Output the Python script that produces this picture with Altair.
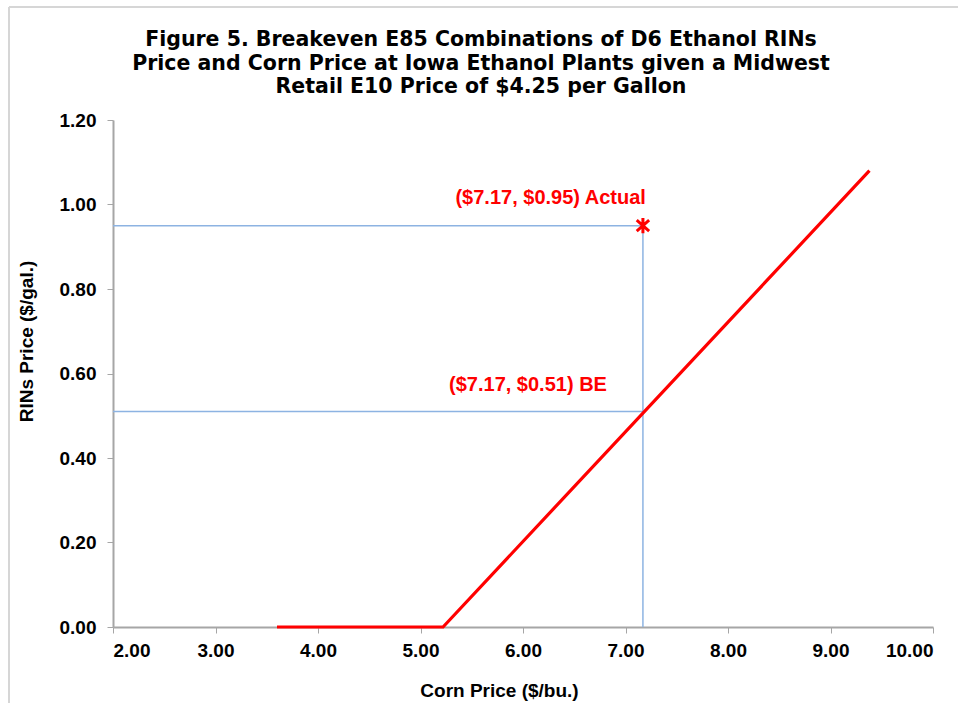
import altair as alt
import pandas as pd

# Breakeven RINs price as a function of corn price (kinked line)
corn_price = [3.60, 5.22, 9.38]
rins_price = [0.00, 0.00, 1.08]

# Highlighted combinations at the current corn price
point_corn = [7.17, 7.17]
point_rins = [0.95, 0.51]
point_kind = ["Actual", "BE"]

x_ticks = [2, 3, 4, 5, 6, 7, 8, 9, 10]
y_ticks = [0.0, 0.2, 0.4, 0.6, 0.8, 1.0, 1.2]

title_lines = [
    "Figure 5. Breakeven  E85 Combinations of D6 Ethanol RINs",
    "Price and Corn Price at Iowa Ethanol Plants given a Midwest",
    "Retail E10 Price of $4.25 per Gallon",
]

FONT = "Liberation Sans"
TITLE_FONT = "DejaVu Sans"
RED = "#ff0000"
GUIDE = "#8db3e2"

line_df = pd.DataFrame({"corn": corn_price, "rins": rins_price})
pts_df = pd.DataFrame({"corn": point_corn, "rins": point_rins, "kind": point_kind})
pts_df["label"] = [
    f"(${c:.2f}, ${r:.2f}) {k}" for c, r, k in zip(point_corn, point_rins, point_kind)
]
pts_df["x0"] = x_ticks[0]
pts_df["y0"] = 0.0
title_df = pd.DataFrame({"title": ["\n".join(title_lines)]})

x_scale = alt.Scale(domain=[2, 10], nice=False, zero=False)
y_scale = alt.Scale(domain=[0, 1.2], nice=False, zero=False)

x_enc = alt.X(
    "corn:Q",
    scale=x_scale,
    axis=alt.Axis(values=x_ticks, format=".2f", title="Corn Price ($/bu.)", titleX=386),
)
y_enc = alt.Y(
    "rins:Q",
    scale=y_scale,
    axis=alt.Axis(values=y_ticks, format=".2f", title="RINs Price ($/gal.)", titleY=221),
)

# Horizontal guides from the y axis to each highlighted point
h_guides = alt.Chart(pts_df).mark_rule(color=GUIDE, strokeWidth=1.5).encode(
    x=alt.X("x0:Q", scale=x_scale), x2="corn:Q", y=alt.Y("rins:Q", scale=y_scale)
)

# Vertical guide from the x axis up to the actual point
v_guide = alt.Chart(pts_df[pts_df.kind == "Actual"]).mark_rule(
    color=GUIDE, strokeWidth=1.5
).encode(x=alt.X("corn:Q", scale=x_scale), y=alt.Y("y0:Q", scale=y_scale), y2="rins:Q")

breakeven = alt.Chart(line_df).mark_line(color=RED, strokeWidth=3.2).encode(
    x=x_enc, y=y_enc
)

asterisk = "M0,-1L0,1M-0.8,-0.7L0.8,0.7M-0.8,0.7L0.8,-0.7"
actual_mark = alt.Chart(pts_df[pts_df.kind == "Actual"]).mark_point(
    shape=asterisk, size=240, filled=False, color=RED, strokeWidth=3, opacity=1
).encode(x=alt.X("corn:Q", scale=x_scale), y=alt.Y("rins:Q", scale=y_scale))

label_style = dict(
    color=RED, font=FONT, fontSize=20, fontWeight="bold", align="right", baseline="middle"
)
actual_label = alt.Chart(pts_df[pts_df.kind == "Actual"]).mark_text(
    dx=3, dy=-28, **label_style
).encode(x=alt.X("corn:Q", scale=x_scale), y=alt.Y("rins:Q", scale=y_scale), text="label:N")
be_label = alt.Chart(pts_df[pts_df.kind == "BE"]).mark_text(
    dx=-36, dy=-27, **label_style
).encode(x=alt.X("corn:Q", scale=x_scale), y=alt.Y("rins:Q", scale=y_scale), text="label:N")

# Three-line heading centred over the figure
heading = alt.Chart(title_df).mark_text(
    font=TITLE_FONT,
    fontSize=20.5,
    fontWeight="bold",
    color="#000000",
    align="center",
    baseline="middle",
    lineBreak="\n",
    lineHeight=23.5,
).encode(text="title:N", x=alt.value(368), y=alt.value(-80))

# Light frame along the top and left edges of the figure
frame_top = alt.Chart(title_df).mark_rule(color="#d6d6d6", strokeWidth=2).encode(
    x=alt.value(-104), x2=alt.value(860), y=alt.value(-113)
)
frame_left = alt.Chart(title_df).mark_rule(color="#d6d6d6", strokeWidth=2).encode(
    x=alt.value(-104), y=alt.value(-113), y2=alt.value(600)
)

chart = (
    alt.layer(
        frame_top,
        frame_left,
        heading,
        h_guides,
        v_guide,
        breakeven,
        actual_mark,
        actual_label,
        be_label,
    )
    .properties(
        width=820,
        height=507,
        autosize=alt.AutoSizeParams(type="none"),
        padding={"left": 113, "top": 120, "right": 25, "bottom": 76},
    )
    .configure_view(stroke=None)
    .configure_axis(
        grid=False,
        domainColor="#a6a6a6",
        tickColor="#a6a6a6",
        domainWidth=2,
        tickSize=6,
        labelFont=FONT,
        labelFontSize=19,
        labelFontWeight="bold",
        labelColor="#000000",
        titleFont=FONT,
        titleFontSize=19,
        titleFontWeight="bold",
        titleColor="#000000",
    )
    .configure_axisX(labelPadding=8, titlePadding=21)
    .configure_axisY(labelPadding=11, titlePadding=23)
)

chart.save("out.html", embed_options={"renderer": "svg", "actions": False})
